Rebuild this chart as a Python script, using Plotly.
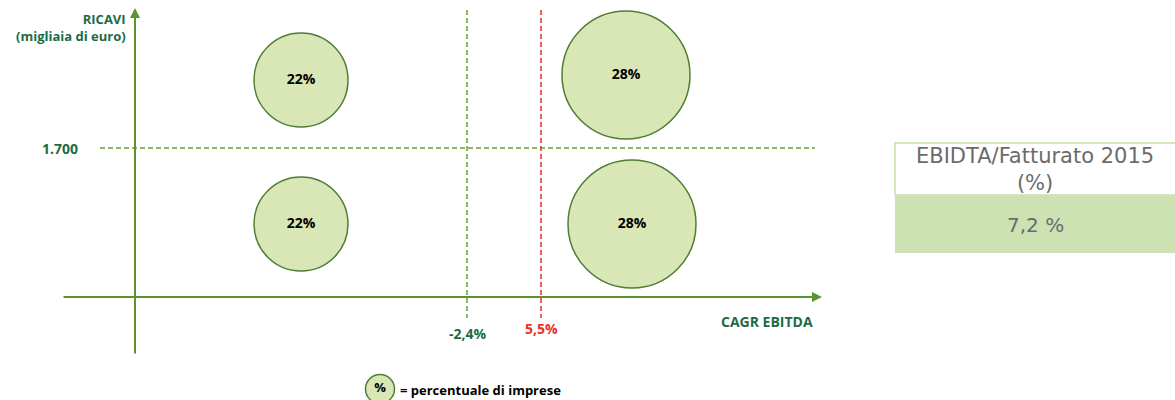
import plotly.graph_objects as go

# Quadrant bubbles: share of companies in each revenue / EBITDA-growth quadrant
quadrants = ["Ricavi alti / CAGR basso", "Ricavi bassi / CAGR basso",
             "Ricavi alti / CAGR alto", "Ricavi bassi / CAGR alto"]
share_pct = [22, 22, 28, 28]

# Thresholds shown on the axes
revenue_threshold_label = "1.700"
cagr_thresholds = ["-2,4%", "5,5%"]

# Side table
table_header = "EBIDTA/Fatturato 2015<br>(%)"
table_value = "7,2 %"

# Layout of the schematic (pixel-like canvas coordinates)
bubble_x = [301, 301, 626, 632]
bubble_y = [80, 224, 75, 224]
bubble_d = [94, 94, 128, 128]

AXIS_GREEN = "#5a9432"
DASH_GREEN = "#6a9f3a"
TEXT_GREEN = "#1d6b45"
RED = "#e8322b"
FILL = "#d9e6b6"
EDGE = "#4f7d33"
FONT = "Open Sans"
TABLE_FONT = "DejaVu Sans"
DASH = "5px,3px"


def heavy(size, color):
    return dict(family=FONT, size=size, color=color, weight="bold")


fig = go.Figure()

shapes = [
    # horizontal revenue threshold
    dict(type="line", x0=100, x1=815, y0=148, y1=148,
         line=dict(color=DASH_GREEN, width=1.5, dash=DASH)),
    # CAGR thresholds
    dict(type="line", x0=467, x1=467, y0=10, y1=318,
         line=dict(color=DASH_GREEN, width=1.5, dash=DASH)),
    dict(type="line", x0=541, x1=541, y0=10, y1=318,
         line=dict(color=RED, width=1.5, dash=DASH)),
    # side table
    dict(type="rect", x0=895, x1=1176, y0=143, y1=195,
         fillcolor="white", line=dict(color="#c6dfa8", width=1.5)),
    dict(type="rect", x0=895, x1=1176, y0=195, y1=253,
         fillcolor="#cde2b2", line=dict(width=0)),
]

# Bubbles
fig.add_trace(go.Scatter(
    x=bubble_x, y=bubble_y, mode="markers+text",
    marker=dict(size=bubble_d, color=FILL, line=dict(color=EDGE, width=1.5),
                opacity=1),
    text=[f"{v}%" for v in share_pct],
    textposition="middle center",
    textfont=heavy(14, "black"),
    hovertext=quadrants, hoverinfo="text", showlegend=False,
))

# Legend bubble
fig.add_trace(go.Scatter(
    x=[380], y=[389], mode="markers+text",
    marker=dict(size=29, color=FILL, line=dict(color=EDGE, width=1.5)),
    text=["%"], textposition="middle center",
    textfont=heavy(13, "black"),
    hoverinfo="skip", showlegend=False,
))

annotations = [
    # axes drawn as arrows
    dict(x=135, y=8, ax=135, ay=355, xref="x", yref="y", axref="x", ayref="y",
         showarrow=True, arrowhead=2, arrowsize=1, arrowwidth=2,
         arrowcolor=AXIS_GREEN, text=""),
    dict(x=822, y=297, ax=62, ay=297, xref="x", yref="y", axref="x", ayref="y",
         showarrow=True, arrowhead=2, arrowsize=1, arrowwidth=2,
         arrowcolor=AXIS_GREEN, text=""),
    # axis titles
    dict(x=128, y=27, xref="x", yref="y", xanchor="right", yanchor="middle",
         text="RICAVI<br>(migliaia di euro)", showarrow=False, align="right",
         font=heavy(13, TEXT_GREEN)),
    dict(x=815, y=321, xref="x", yref="y", xanchor="right", yanchor="middle",
         text="CAGR EBITDA", showarrow=False,
         font=heavy(14, TEXT_GREEN)),
    dict(x=80, y=148, xref="x", yref="y", xanchor="right", yanchor="middle",
         text=revenue_threshold_label, showarrow=False,
         font=heavy(14, TEXT_GREEN)),
    dict(x=468, y=333, xref="x", yref="y", xanchor="center", yanchor="middle",
         text=cagr_thresholds[0], showarrow=False,
         font=heavy(14, TEXT_GREEN)),
    dict(x=541, y=328, xref="x", yref="y", xanchor="center", yanchor="middle",
         text=cagr_thresholds[1], showarrow=False,
         font=heavy(14, RED)),
    # legend text
    dict(x=398, y=390, xref="x", yref="y", xanchor="left", yanchor="middle",
         text="= percentuale di imprese", showarrow=False,
         font=heavy(13, "black")),
    # side table text
    dict(x=1035, y=169, xref="x", yref="y", xanchor="center", yanchor="middle",
         text=table_header, showarrow=False,
         font=dict(family=TABLE_FONT, size=21, color="#6b6b6b")),
    dict(x=1035, y=225, xref="x", yref="y", xanchor="center", yanchor="middle",
         text=table_value, showarrow=False,
         font=dict(family=TABLE_FONT, size=20, color="#6b6b6b")),
]

fig.update_layout(
    width=1175, height=400,
    margin=dict(l=0, r=0, t=0, b=0),
    paper_bgcolor="white", plot_bgcolor="white",
    xaxis=dict(range=[0, 1175], visible=False, fixedrange=True),
    yaxis=dict(range=[400, 0], visible=False, fixedrange=True),
    shapes=shapes, annotations=annotations,
)

fig.write_html("out.html", config={"displayModeBar": False})
